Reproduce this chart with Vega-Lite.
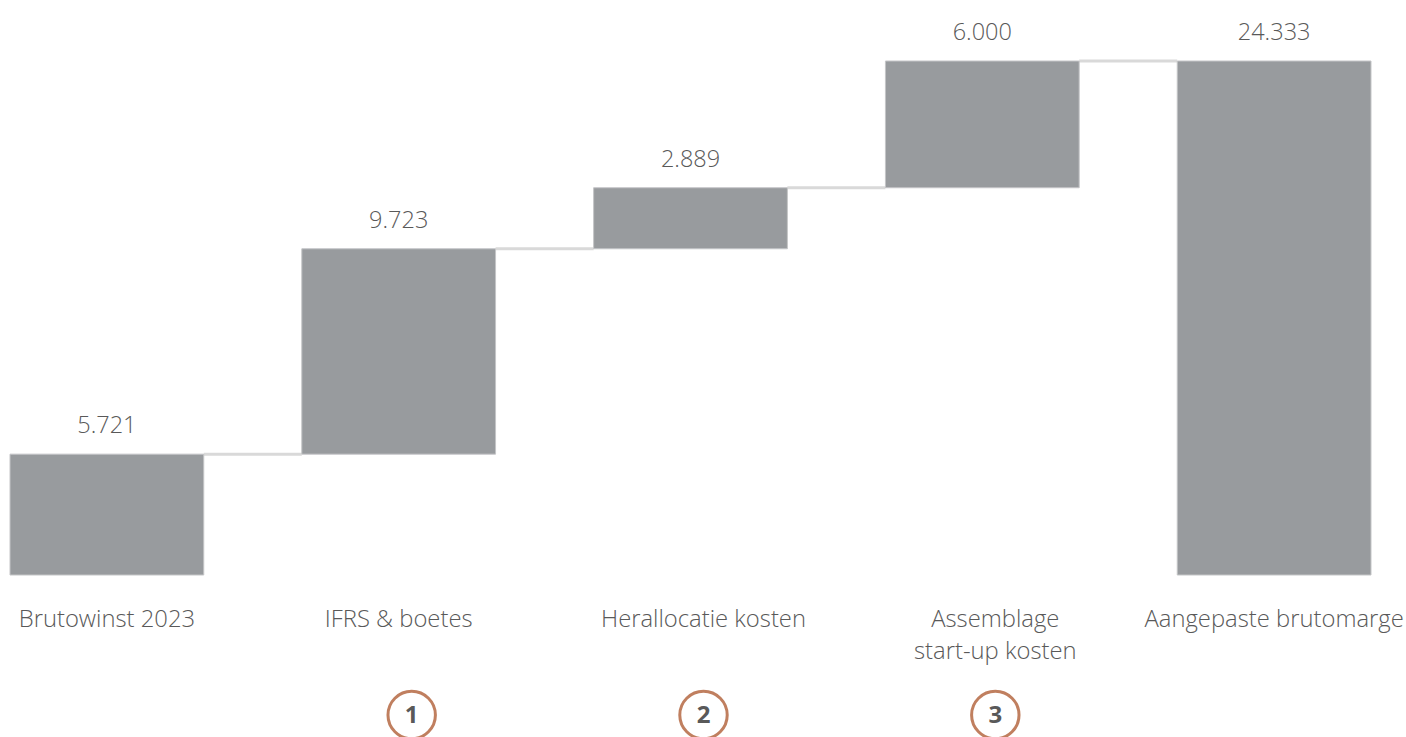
{
  "$schema": "https://vega.github.io/schema/vega-lite/v6.json",
  "width": 1361,
  "height": 514,
  "autosize": "none",
  "padding": {"left": 10, "top": 61, "right": 35, "bottom": 162},
  "background": "white",
  "config": {"view": {"stroke": null}, "font": "Open Sans"},
  "data": {
    "values": [
      {"cat": "Brutowinst 2023", "start": 0, "end": 5.721, "label": "5.721", "next": "IFRS & boetes", "step": null},
      {"cat": "IFRS & boetes", "start": 5.721, "end": 15.444, "label": "9.723", "next": "Herallocatie kosten", "step": "1"},
      {"cat": "Herallocatie kosten", "start": 15.444, "end": 18.333, "label": "2.889", "next": "Assemblage|start-up kosten", "step": "2"},
      {"cat": "Assemblage|start-up kosten", "start": 18.333, "end": 24.333, "label": "6.000", "next": "Aangepaste brutomarge", "step": "3"},
      {"cat": "Aangepaste brutomarge", "start": 0, "end": 24.333, "label": "24.333", "next": null, "step": null}
    ]
  },
  "encoding": {
    "x": {
      "field": "cat",
      "type": "nominal",
      "sort": null,
      "scale": {"paddingInner": 0.336, "paddingOuter": 0},
      "axis": {
        "title": null,
        "domain": false,
        "ticks": false,
        "labelAngle": 0,
        "labelFontSize": 23.8,
        "labelFontWeight": 300,
        "labelColor": "#595959",
        "labelFont": "Open Sans",
        "labelPadding": 32,
        "labelLineHeight": 32,
        "labelLimit": 0,
        "labelOverlap": false,
        "labelBound": false,
        "labelOffset": {"condition": {"test": "datum.value === 'Herallocatie kosten' || datum.value === 'Assemblage|start-up kosten'", "value": 13}, "value": 0},
        "labelExpr": "split(datum.label, '|')"
      }
    }
  },
  "layer": [
    {
      "transform": [{"filter": "datum.next != null"}],
      "mark": {"type": "rule", "color": "#d9d9d9", "strokeWidth": 3},
      "encoding": {
        "x": {"field": "cat", "type": "nominal", "sort": null, "bandPosition": 1},
        "x2": {"field": "next", "bandPosition": 0},
        "y": {"field": "end", "type": "quantitative", "scale": {"domain": [0, 24.333], "nice": false, "zero": true}, "axis": null}
      }
    },
    {
      "mark": {"type": "bar", "color": "#989b9e", "stroke": "#c4c5c7", "strokeWidth": 1},
      "encoding": {
        "y": {"field": "start", "type": "quantitative"},
        "y2": {"field": "end"}
      }
    },
    {
      "mark": {"type": "text", "fontSize": 23.5, "fontWeight": 300, "color": "#595959", "baseline": "middle", "dy": -28},
      "encoding": {
        "y": {"field": "end", "type": "quantitative"},
        "text": {"field": "label"}
      }
    },
    {
      "transform": [{"filter": "datum.step != null"}],
      "mark": {"type": "point", "shape": "circle", "size": 2250, "stroke": "#c07f5f", "strokeWidth": 3, "fill": "white", "filled": false, "opacity": 1, "xOffset": 13, "yOffset": 140},
      "encoding": {
        "y": {"datum": 0, "type": "quantitative"}
      }
    },
    {
      "transform": [{"filter": "datum.step != null"}],
      "mark": {"type": "text", "fontSize": 24, "fontWeight": "bold", "color": "#595959", "baseline": "middle", "xOffset": 13, "yOffset": 141},
      "encoding": {
        "y": {"datum": 0, "type": "quantitative"},
        "text": {"field": "step"}
      }
    }
  ]
}
